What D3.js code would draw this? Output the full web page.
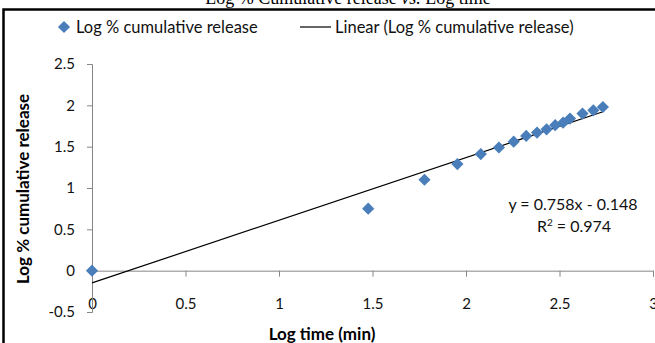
<!DOCTYPE html>
<html>
<head>
<meta charset="utf-8">
<script src="https://cdn.jsdelivr.net/npm/d3@7"></script>
<style>
  body { margin: 0; background: #fff; }
  text { font-family: Lato, "Open Sans", sans-serif; }
</style>
</head>
<body>
<div id="chart"></div>
<script>
// data
var logTime = [0, 1.477, 1.778, 1.954, 2.079, 2.176, 2.255, 2.322, 2.380, 2.431, 2.477, 2.519, 2.556, 2.623, 2.681, 2.732];
var logRelease = [0, 0.75, 1.10, 1.29, 1.41, 1.49, 1.56, 1.63, 1.67, 1.71, 1.76, 1.79, 1.84, 1.90, 1.94, 1.98];
var xTicks = [0, 0.5, 1, 1.5, 2, 2.5, 3];
var yTicks = [-0.5, 0, 0.5, 1, 1.5, 2, 2.5];
var slope = 0.758, intercept = -0.148, r2 = 0.974;

var W = 655, H = 343;
var margin = {top: 64, right: 2, bottom: 31, left: 92};
var width = W - margin.left - margin.right,
    height = H - margin.top - margin.bottom;

var svg = d3.select("#chart")
  .append("svg")
    .attr("width", W)
    .attr("height", H);

// title, cut off by the top of the picture
svg.append("text")
  .attr("x", 348)
  .attr("y", 4)
  .attr("text-anchor", "middle")
  .style("font-family", "'Liberation Serif', serif")
  .style("font-size", "18px")
  .html("Log % Cumulative release <tspan font-style='italic'>vs.</tspan> Log time");

// frame
svg.append("path")
  .attr("d", "M3.5,343 V9.5 H655")
  .attr("fill", "none")
  .attr("stroke", "#000")
  .attr("stroke-width", 2.5);

var g = svg.append("g")
  .attr("transform", "translate(" + margin.left + "," + margin.top + ")");

var x = d3.scaleLinear().domain([0, 3]).range([0, width]);
var y = d3.scaleLinear().domain([-0.5, 2.5]).range([height, 0]);

var fmt = function(d) { return String(d); };

// x axis sits on y = 0
var xAxis = g.append("g")
  .attr("transform", "translate(0," + y(0) + ")")
  .call(d3.axisBottom(x).tickValues(xTicks).tickFormat(fmt).tickSize(6).tickPadding(22));
xAxis.select(".domain").attr("stroke", "#868686");
xAxis.selectAll(".tick line").attr("stroke", "#868686");
xAxis.selectAll("text").style("font-size", "15px").attr("fill", "#111");

var yAxis = g.append("g")
  .call(d3.axisLeft(y).tickValues(yTicks).tickFormat(fmt).tickSize(5).tickPadding(12));
yAxis.select(".domain").attr("stroke", "#868686");
yAxis.selectAll(".tick line").attr("stroke", "#868686");
yAxis.selectAll("text").style("font-size", "15px").attr("fill", "#111");

// axis titles
svg.append("text")
  .attr("x", 322)
  .attr("y", 340)
  .attr("text-anchor", "middle")
  .style("font-size", "17px")
  .style("font-weight", "bold")
  .text("Log time (min)");

svg.append("text")
  .attr("transform", "translate(29,189) rotate(-90)")
  .attr("text-anchor", "middle")
  .style("font-size", "17px")
  .style("font-weight", "bold")
  .text("Log % cumulative release");

// trend line
var xMax = d3.max(logTime);
g.append("line")
  .attr("x1", x(0))
  .attr("y1", y(intercept))
  .attr("x2", x(xMax))
  .attr("y2", y(slope * xMax + intercept))
  .attr("stroke", "#000")
  .attr("stroke-width", 1.2);

// points
var diamond = d3.symbol().type(d3.symbolDiamond2).size(95);
g.selectAll(".pt")
  .data(logTime)
  .enter()
  .append("path")
    .attr("class", "pt")
    .attr("d", diamond)
    .attr("transform", function(d, i) { return "translate(" + x(d) + "," + y(logRelease[i]) + ")"; })
    .attr("fill", "#4a7ebb");

// trend equation
svg.append("text")
  .attr("x", 573)
  .attr("y", 210)
  .attr("text-anchor", "middle")
  .style("font-size", "16px")
  .attr("fill", "#111")
  .text("y = " + slope + "x - " + (-intercept));
svg.append("text")
  .attr("x", 574)
  .attr("y", 232)
  .attr("text-anchor", "middle")
  .style("font-size", "16px")
  .attr("fill", "#111")
  .html("R<tspan dy='-6' font-size='10px'>2</tspan><tspan dy='6'> = " + r2 + "</tspan>");

// legend
var legend = svg.append("g");
legend.append("path")
  .attr("d", diamond)
  .attr("transform", "translate(64,27)")
  .attr("fill", "#4a7ebb");
legend.append("text")
  .attr("x", 76)
  .attr("y", 33)
  .style("font-size", "16.5px")
  .attr("fill", "#111")
  .text("Log % cumulative release");
legend.append("line")
  .attr("x1", 300).attr("x2", 331)
  .attr("y1", 27).attr("y2", 27)
  .attr("stroke", "#000")
  .attr("stroke-width", 1.2);
legend.append("text")
  .attr("x", 335)
  .attr("y", 33)
  .style("font-size", "16.5px")
  .attr("fill", "#111")
  .text("Linear (Log % cumulative release)");
</script>
</body>
</html>
